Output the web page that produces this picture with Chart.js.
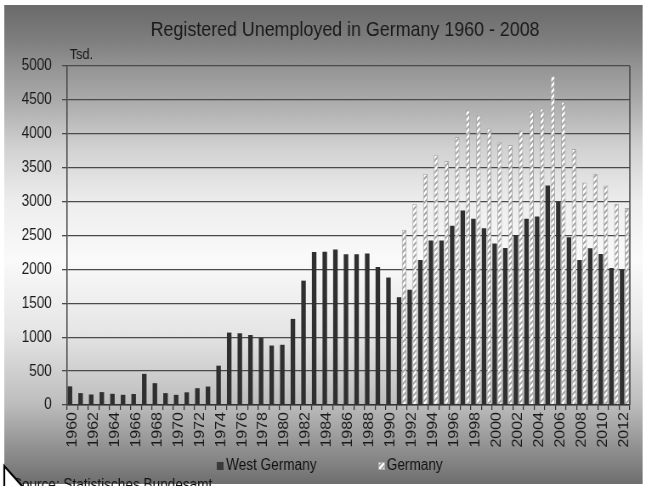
<!DOCTYPE html>
<html>
<head>
<meta charset="utf-8">
<title>Registered Unemployed in Germany</title>
<script src="https://cdn.jsdelivr.net/npm/chart.js@4.4.0/dist/chart.umd.min.js"></script>
<style>
  html, body { margin: 0; padding: 0; background: #fff; overflow: hidden; }
  #wrap { width: 759px; height: 486px; transform: scaleX(0.85); transform-origin: 0 0; }
</style>
</head>
<body>
<div id="wrap"><canvas id="barChart" width="759" height="486"></canvas></div>
<script>
// years on the x axis
const years = [
    '1960', '1961', '1962', '1963', '1964', '1965', '1966', '1967', '1968', '1969',
    '1970', '1971', '1972', '1973', '1974', '1975', '1976', '1977', '1978', '1979',
    '1980', '1981', '1982', '1983', '1984', '1985', '1986', '1987', '1988', '1989',
    '1990', '1991', '1992', '1993', '1994', '1995', '1996', '1997', '1998', '1999',
    '2000', '2001', '2002', '2003', '2004', '2005', '2006', '2007', '2008', '2009',
    '2010', '2011', '2012'
];

// registered unemployed, thousands
const westGermany = [
    275, 175, 155, 190, 165, 150, 162, 459, 322, 175,
    150, 187, 248, 272, 580, 1068, 1058, 1032, 990, 877,
    888, 1270, 1834, 2255, 2260, 2295, 2222, 2222, 2236, 2035,
    1880, 1590, 1700, 2140, 2426, 2426, 2642, 2869, 2746, 2608,
    2381, 2317, 2509, 2746, 2780, 3239, 3002, 2475, 2140, 2312,
    2228, 2021, 1997
];

const germany = [
    null, null, null, null, null, null, null, null, null, null,
    null, null, null, null, null, null, null, null, null, null,
    null, null, null, null, null, null, null, null, null, null,
    null, 2583, 2968, 3412, 3683, 3599, 3954, 4348, 4274, 4077,
    3875, 3836, 4052, 4348, 4373, 4851, 4472, 3776, 3283, 3412,
    3239, 2968, 2904
];

const yTicks = [0, 500, 1000, 1500, 2000, 2500, 3000, 3500, 4000, 4500, 5000];

const FONT = '"Liberation Sans", Arial, sans-serif';
Chart.defaults.font.family = FONT;
Chart.defaults.color = '#1a1a1a';

// white bar with grey diagonal stripes
function makeHatch() {
    const tile = document.createElement('canvas');
    tile.width = 6;
    tile.height = 6;
    const t = tile.getContext('2d');
    t.fillStyle = '#ffffff';
    t.fillRect(0, 0, 6, 6);
    t.strokeStyle = '#9e9e9e';
    t.lineWidth = 1.7;
    t.beginPath();
    t.moveTo(0, 6); t.lineTo(6, 0);
    t.moveTo(-1, 1); t.lineTo(1, -1);
    t.moveTo(5, 7); t.lineTo(7, 5);
    t.stroke();
    return t.createPattern(tile, 'repeat');
}

const ctx = document.getElementById('barChart').getContext('2d');
const hatch = makeHatch();

const decorPlugin = {
    id: 'decor',
    beforeDraw(chart) {
        const c = chart.ctx;
        c.save();
        c.fillStyle = '#ffffff';
        c.fillRect(0, 0, chart.width, chart.height);
        const g = c.createLinearGradient(0, 5, 0, 484);
        g.addColorStop(0, '#6a6a6a');
        g.addColorStop(0.07, '#7d7d7d');
        g.addColorStop(0.13, '#949494');
        g.addColorStop(0.2, '#ababab');
        g.addColorStop(0.3, '#d2d2d2');
        g.addColorStop(0.41, '#ededed');
        g.addColorStop(0.53, '#fafafa');
        g.addColorStop(0.68, '#e6e6e6');
        g.addColorStop(0.83, '#bebebe');
        g.addColorStop(0.91, '#989898');
        g.addColorStop(1, '#6e6e6e');
        c.fillStyle = g;
        c.fillRect(5, 5, 751, 479);
        c.restore();
    },
    afterDraw(chart) {
        const c = chart.ctx;
        const area = chart.chartArea;
        c.save();

        // right border of the plot
        c.strokeStyle = '#444';
        c.lineWidth = 1.5;
        c.beginPath();
        c.moveTo(area.right, area.top);
        c.lineTo(area.right, area.bottom);
        c.stroke();

        // title
        c.fillStyle = '#1a1a1a';
        c.font = '21px ' + FONT;
        c.textAlign = 'center';
        c.textBaseline = 'middle';
        c.fillText('Registered Unemployed in Germany 1960 - 2008', 406, 30);

        // unit
        c.font = '15px ' + FONT;
        c.textAlign = 'left';
        c.textBaseline = 'alphabetic';
        c.fillText('Tsd.', 82, 59);

        // legend
        c.font = '16px ' + FONT;
        c.textBaseline = 'middle';
        c.fillStyle = '#3a3a3a';
        c.fillRect(255, 462, 8, 8);
        c.fillStyle = '#111';
        c.fillText('West Germany', 266, 466);
        c.fillStyle = hatch;
        c.fillRect(445, 462, 8, 8);
        c.strokeStyle = '#aaa';
        c.lineWidth = 1;
        c.strokeRect(445.5, 462.5, 7, 7);
        c.fillStyle = '#111';
        c.fillText('Germany', 455, 466);

        // source line, cut at the bottom edge
        c.textBaseline = 'alphabetic';
        c.font = '16px ' + FONT;
        c.fillText('Source: Statistisches Bundesamt', 15, 490);

        // pointer arrow in the corner
        c.fillStyle = '#ffffff';
        c.beginPath();
        c.moveTo(5, 466);
        c.lineTo(5, 486);
        c.lineTo(27, 486);
        c.closePath();
        c.fill();
        c.strokeStyle = '#000';
        c.lineWidth = 2.2;
        c.beginPath();
        c.moveTo(5, 486);
        c.lineTo(5, 466);
        c.lineTo(27, 487);
        c.stroke();

        c.restore();
    }
};

const unemploymentChart = new Chart(ctx, {
    type: 'bar',
    data: {
        labels: years,
        datasets: [{
            label: 'West Germany',
            data: westGermany,
            backgroundColor: '#2f2f2f',
            borderWidth: 0
        }, {
            label: 'Germany',
            data: germany,
            backgroundColor: hatch,
            borderColor: '#a8a8a8',
            borderWidth: 1
        }]
    },
    options: {
        responsive: false,
        animation: false,
        devicePixelRatio: 1,
        categoryPercentage: 0.95,
        barPercentage: 0.9,
        layout: {
            padding: { top: 66, right: 18, left: 0, bottom: 0 }
        },
        plugins: {
            legend: { display: false },
            title: { display: false },
            tooltip: { enabled: false }
        },
        scales: {
            x: {
                grid: {
                    offset: true,
                    drawOnChartArea: false,
                    drawTicks: true,
                    tickLength: 5,
                    color: '#333',
                    lineWidth: 1.2
                },
                border: { color: '#333', width: 1.5 },
                ticks: {
                    autoSkip: false,
                    maxRotation: 90,
                    minRotation: 90,
                    padding: 2,
                    color: '#1a1a1a',
                    font: { size: 16 },
                    callback: function(value, index) {
                        return index % 2 === 0 ? years[index] : '';
                    }
                },
                afterFit: function(scale) { scale.height = 81; }
            },
            y: {
                min: 0,
                max: 5000,
                afterBuildTicks: function(scale) {
                    scale.ticks = yTicks.map(v => ({ value: v }));
                },
                grid: {
                    color: '#4a4a4a',
                    lineWidth: 1.3,
                    tickLength: 6
                },
                border: { color: '#444', width: 1.5 },
                ticks: {
                    padding: 12,
                    color: '#1a1a1a',
                    font: { size: 16 },
                    callback: function(value) { return String(value); }
                },
                afterFit: function(scale) { scale.width = 79; }
            }
        }
    },
    plugins: [decorPlugin]
});
</script>
</body>
</html>
